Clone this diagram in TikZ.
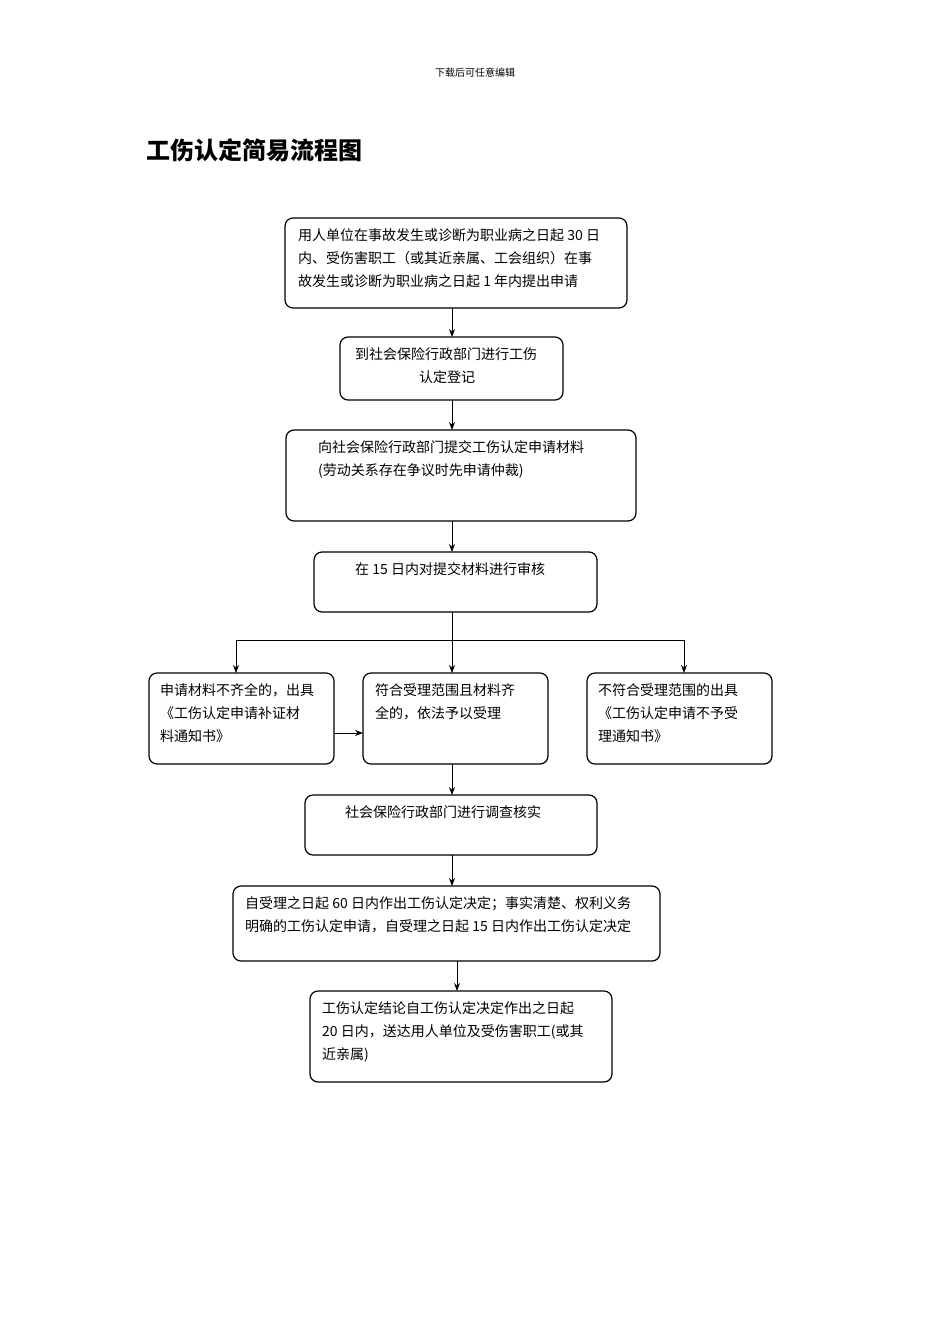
\documentclass[tikz,border=0pt]{standalone}
\usepackage{fontspec}
\setmainfont{Noto Sans CJK SC}
\usetikzlibrary{arrows.meta}
\begin{document}
\begin{tikzpicture}[x=1pt,y=-1pt,
 bx/.style={draw,line width=1.2pt,rounded corners=8pt},
 tx/.style={anchor=north west,align=left,font=\fontsize{14}{23}\selectfont,inner sep=0pt},
 ar/.style={-{Stealth[length=8pt,width=6pt]},line width=1pt}]
\useasboundingbox (0,0) rectangle (950,1344);
\node[font=\fontsize{10}{12}\selectfont] (hd) at (475,73) {下载后可任意编辑};
\node[anchor=west,font=\fontsize{24}{28}\selectfont\bfseries] (ttl) at (143,150) {工伤认定简易流程图};
\draw[bx] (285,218) rectangle (627,308);
\coordinate (b1b) at (452,308);
\node[tx] (t1) at (298,228) {用人单位在事故发生或诊断为职业病之日起 30 日\\内、受伤害职工（或其近亲属、工会组织）在事\\故发生或诊断为职业病之日起 1 年内提出申请};
\draw[bx] (340,337) rectangle (563,400);
\coordinate (b2t) at (452,337); \coordinate (b2b) at (452,400);
\node[tx] (t2) at (355,347) {到社会保险行政部门进行工伤\\\hspace*{64pt}认定登记};
\draw[bx] (286,430) rectangle (636,521);
\coordinate (b3t) at (452,430); \coordinate (b3b) at (452,521);
\node[tx] (t3) at (318,440) {向社会保险行政部门提交工伤认定申请材料\\(劳动关系存在争议时先申请仲裁)};
\draw[bx] (314,552) rectangle (597,612);
\coordinate (b4t) at (452,552); \coordinate (b4b) at (452,612);
\node[tx] (t4) at (355,562) {在 15 日内对提交材料进行审核};
\draw[bx] (149,673) rectangle (334,764);
\coordinate (b5t) at (236,673); \coordinate (b5r) at (334,733);
\node[tx] (t5) at (160,683) {申请材料不齐全的，出具\\《工伤认定申请补证材\\料通知书》};
\draw[bx] (363,673) rectangle (548,764);
\coordinate (b6t) at (452,673); \coordinate (b6l) at (363,733); \coordinate (b6b) at (452,764);
\node[tx] (t6) at (375,683) {符合受理范围且材料齐\\全的，依法予以受理};
\draw[bx] (587,673) rectangle (772,764);
\coordinate (b7t) at (684,673);
\node[tx] (t7) at (598,683) {不符合受理范围的出具\\《工伤认定申请不予受\\理通知书》};
\draw[bx] (305,795) rectangle (597,855);
\coordinate (b8t) at (452,795); \coordinate (b8b) at (452,855);
\node[tx] (t8) at (345,805) {社会保险行政部门进行调查核实};
\draw[bx] (233,886) rectangle (660,961);
\coordinate (b9t) at (452,886); \coordinate (b9b) at (457,961);
\node[tx] (t9) at (245,896) {自受理之日起 60 日内作出工伤认定决定；事实清楚、权利义务\\明确的工伤认定申请，自受理之日起 15 日内作出工伤认定决定};
\draw[bx] (310,991) rectangle (612,1082);
\coordinate (b10t) at (457,991);
\node[tx] (t10) at (322,1001) {工伤认定结论自工伤认定决定作出之日起\\20 日内，送达用人单位及受伤害职工(或其\\近亲属)};
\draw[ar] (b1b) -- (b2t);
\draw[ar] (b2b) -- (b3t);
\draw[ar] (b3b) -- (b4t);
\coordinate (sp) at (452,640);
\draw[line width=1pt] (b4b) -- (sp);
\draw[ar] (sp) -| (b5t);
\draw[ar] (sp) -- (b6t);
\draw[ar] (sp) -| (b7t);
\draw[ar] (b5r) -- (b6l);
\draw[ar] (b6b) -- (b8t);
\draw[ar] (b8b) -- (b9t);
\draw[ar] (b9b) -- (b10t);
\end{tikzpicture}
\end{document}
